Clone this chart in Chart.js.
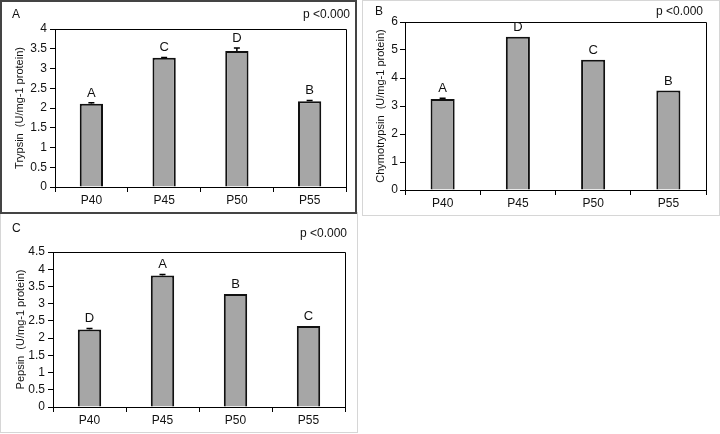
<!DOCTYPE html>
<html>
<head>
<meta charset="utf-8">
<script src="https://cdn.jsdelivr.net/npm/chart.js@4"></script>
<style>
  html, body { margin: 0; padding: 0; background: #fff; }
  body { width: 720px; height: 434px; position: relative; overflow: hidden; }
  canvas { position: absolute; }
  .frame { position: absolute; box-sizing: border-box; pointer-events: none; }
</style>
</head>
<body>
<div class="frame" style="left:362px;top:0;width:358px;height:216px;border:1px solid #d6d6d6;"></div>
<div class="frame" style="left:0;top:212px;width:358px;height:221px;border:1px solid #d6d6d6;"></div>
<canvas id="chartB" style="left:363px;top:0"></canvas>
<canvas id="chartC" style="left:0;top:214px"></canvas>
<canvas id="chartA" style="left:0;top:0"></canvas>
<div class="frame" style="left:0;top:0;width:357px;height:214px;border:2px solid #444;"></div>

<script>
// data
const categories = ['P40', 'P45', 'P50', 'P55'];

const trypsin = [2.11, 3.27, 3.44, 2.17];
const trypsinErr = [0.02, 0.01, 0.08, 0.02];
const trypsinLetters = ['A', 'C', 'D', 'B'];
const trypsinTicks = { max: 4, step: 0.5 };

const chymotrypsin = [3.25, 5.47, 4.65, 3.55];
const chymotrypsinErr = [0.03, 0, 0, 0];
const chymotrypsinLetters = ['A', 'D', 'C', 'B'];
const chymotrypsinTicks = { max: 6, step: 1 };

const pepsin = [2.25, 3.82, 3.28, 2.35];
const pepsinErr = [0.03, 0.03, 0, 0];
const pepsinLetters = ['D', 'A', 'B', 'C'];
const pepsinTicks = { max: 4.5, step: 0.5 };

const pText = 'p <0.000';
const FONT = "'Liberation Sans', Arial, sans-serif";

// letters, error bars, plot frame, panel label and p value
const panelPlugin = {
  id: 'panelText',
  afterDatasetsDraw(chart, args, opts) {
    const ctx = chart.ctx;
    const area = chart.chartArea;
    const y = chart.scales.y;
    const meta = chart.getDatasetMeta(0);
    ctx.save();
    ctx.strokeStyle = '#000';
    ctx.lineWidth = 1;
    ctx.beginPath();
    ctx.moveTo(area.left, area.top + 0.5);
    ctx.lineTo(area.right + 0.5, area.top + 0.5);
    ctx.lineTo(area.right + 0.5, area.bottom);
    ctx.stroke();

    meta.data.forEach((bar, i) => {
      const val = chart.data.datasets[0].data[i];
      const err = opts.errors[i];
      const top = y.getPixelForValue(val + err);
      if (err > 0) {
        ctx.beginPath();
        ctx.lineWidth = 1.5;
        ctx.moveTo(bar.x, bar.y);
        ctx.lineTo(bar.x, top);
        ctx.moveTo(bar.x - 3, top);
        ctx.lineTo(bar.x + 3, top);
        ctx.stroke();
      }
      ctx.fillStyle = '#111';
      ctx.font = '13px ' + FONT;
      ctx.textAlign = 'center';
      ctx.textBaseline = 'alphabetic';
      ctx.fillText(opts.letters[i], bar.x, Math.min(top, bar.y) - 6);
    });

    ctx.font = '12px ' + FONT;
    ctx.fillStyle = '#111';
    ctx.textAlign = 'left';
    ctx.fillText(opts.label, opts.labelX, opts.labelY);
    ctx.textAlign = 'right';
    ctx.fillText(pText, opts.pX, opts.pY);
    ctx.restore();
  }
};

function makeChart(id, size, values, errors, letters, ticks, yTitle, lay) {
  const canvas = document.getElementById(id);
  canvas.width = size.w;
  canvas.height = size.h;
  canvas.style.width = size.w + 'px';
  canvas.style.height = size.h + 'px';
  return new Chart(canvas, {
    type: 'bar',
    data: {
      labels: categories,
      datasets: [{
        data: values,
        backgroundColor: '#a6a6a6',
        borderColor: '#111',
        borderWidth: 2,
        categoryPercentage: 1,
        barPercentage: 0.32,
      }]
    },
    options: {
      responsive: false,
      animation: false,
      devicePixelRatio: 1,
      layout: { padding: { left: 0, top: lay.top, right: lay.right, bottom: 0 } },
      plugins: {
        legend: { display: false },
        tooltip: { enabled: false },
        panelText: {
          errors, letters,
          label: lay.label, labelX: lay.labelX, labelY: lay.labelY,
          pX: lay.pX, pY: lay.pY
        }
      },
      scales: {
        x: {
          grid: { offset: true, drawOnChartArea: false, tickLength: 5, color: '#000' },
          border: { color: '#000', width: 1 },
          ticks: { color: '#111', font: { family: FONT, size: 12 }, padding: 1 },
          afterFit: s => { s.height = lay.xh; }
        },
        y: {
          min: 0,
          max: ticks.max,
          grid: { drawOnChartArea: false, tickLength: 5, color: '#000' },
          border: { color: '#000', width: 1 },
          ticks: {
            stepSize: ticks.step,
            autoSkip: false,
            color: '#111',
            font: { family: FONT, size: 12 },
            padding: lay.tickPad,
            callback: v => String(+v.toFixed(1))
          },
          title: {
            display: true,
            text: yTitle,
            color: '#111',
            font: { family: FONT, size: 11 },
            padding: { top: lay.titlePad, bottom: 0 }
          },
          afterFit: s => { s.width = lay.yw; }
        }
      }
    },
    plugins: [panelPlugin]
  });
}

makeChart('chartA', { w: 357, h: 213 }, trypsin, trypsinErr, trypsinLetters, trypsinTicks,
  'Trypsin  (U/mg-1 protein)',
  { top: 29, right: 11, xh: 26, yw: 55, tickPad: 3, titlePad: 13,
    label: 'A', labelX: 12, labelY: 18, pX: 350, pY: 18 });

makeChart('chartB', { w: 357, h: 214 }, chymotrypsin, chymotrypsinErr, chymotrypsinLetters, chymotrypsinTicks,
  'Chymotrypsin  (U/mg-1 protein)',
  { top: 22, right: 14, xh: 24, yw: 42, tickPad: 2, titlePad: 11,
    label: 'B', labelX: 12, labelY: 15, pX: 340, pY: 15 });

makeChart('chartC', { w: 357, h: 218 }, pepsin, pepsinErr, pepsinLetters, pepsinTicks,
  'Pepsin  (U/mg-1 protein)',
  { top: 38, right: 12, xh: 25, yw: 53, tickPad: 3, titlePad: 14,
    label: 'C', labelX: 12, labelY: 18, pX: 347, pY: 23 });
</script>
</body>
</html>
